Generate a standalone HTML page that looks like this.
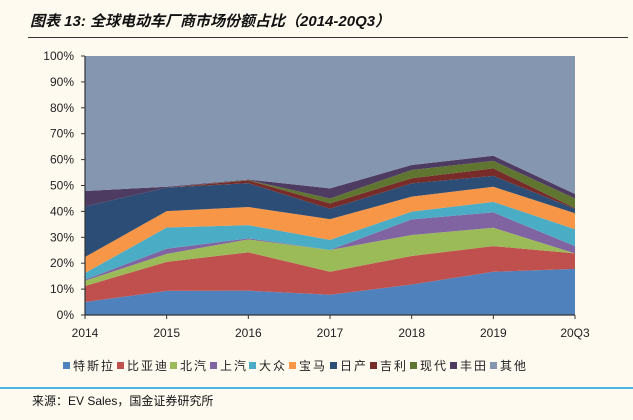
<!DOCTYPE html>
<html><head><meta charset="utf-8"><style>
body{margin:0;background:#fffaf0;}
#wrap{position:relative;width:633px;height:420px;background:#fffaf0;font-family:"Liberation Sans","Noto Sans CJK SC",sans-serif;overflow:hidden}
.title{position:absolute;left:30px;top:10px;font-size:15px;font-weight:bold;font-style:italic;color:#111}
.rule{position:absolute;left:28px;top:37px;width:600px;height:1px;background:#333}
.rule2{position:absolute;left:0;top:387px;width:633px;height:2px;background:#4bb3e0}
.src{position:absolute;left:32px;top:392px;font-size:12px;color:#111}
.leg{position:absolute;top:357px;font-size:12px;color:#222;white-space:nowrap;letter-spacing:2px}
.leg i{display:inline-block;width:7px;height:7px;margin-right:3px;vertical-align:1px}
</style></head><body>
<div id="wrap">
<div class="title">图表 13: 全球电动车厂商市场份额占比（2014-20Q3）</div>
<div class="rule"></div>
<svg id="chart" width="633" height="420" style="position:absolute;left:0;top:0"></svg>
<div id="legend"></div>
<div class="rule2"></div>
<div class="src">来源：EV Sales，国金证券研究所</div>
</div>
<script>
const categories=["2014","2015","2016","2017","2018","2019","20Q3"];
const seriesNames=["特斯拉","比亚迪","北汽","上汽","大众","宝马","日产","吉利","现代","丰田","其他"];
const tesla=[5,9.3,9.4,7.8,11.8,16.7,17.8];
const byd=[6.2,11.2,14.8,8.9,11,9.9,6];
const baic=[2,3.1,5,8.4,8.1,7.1,0];
const saic=[0.4,2,0.4,0,6,5.9,2.8];
const vw=[2.6,8.2,5.1,3.9,3,4.1,6.5];
const bmw=[6.2,6.3,7,8,5.8,5.8,6.2];
const nissan=[19.5,9.1,9.2,4,5.1,4.2,1.7];
const geely=[0,0,1.1,2.1,2,2.9,0.3];
const hyundai=[0,0,0.1,1.9,3.2,2.9,3.7];
const toyota=[6,0.3,0.2,3.9,1.9,2,1.7];
const yTicks=[0,10,20,30,40,50,60,70,80,90,100];
const colors=["#4f81bd","#c0504d","#9bbb59","#8064a2","#4bacc6","#f79646","#2c4d75","#772c2a","#5f7530","#4d3b62","#8596b0"];
const series=[tesla,byd,baic,saic,vw,bmw,nissan,geely,hyundai,toyota];
const NS="http://www.w3.org/2000/svg";
const svg=document.getElementById('chart');
const X0=85,X1=575,Y0=315,Y1=56;
const x=i=>X0+(X1-X0)*i/(categories.length-1);
const y=v=>Y0-(Y0-Y1)*v/100;
function mk(t,a){const e=document.createElementNS(NS,t);for(const k in a)e.setAttribute(k,a[k]);svg.appendChild(e);return e;}
let cum=categories.map(()=>0);
const all=series.concat([categories.map((c,i)=>100-series.reduce((s,a)=>s+a[i],0))]);
all.forEach((arr,si)=>{
  const lo=cum.slice();const hi=cum.map((c,i)=>c+arr[i]);
  let d="";
  hi.forEach((v,i)=>{d+=(i?"L":"M")+x(i)+","+y(v);});
  for(let i=lo.length-1;i>=0;i--)d+="L"+x(i)+","+y(lo[i]);
  const p=mk('path',{d:d+"Z",fill:colors[si]});
  
  
  cum=hi;
});
const ax=mk('path',{d:`M${X0},${Y1}V${Y0}H${X1}`,stroke:"#333",fill:"none","stroke-width":1.2});


yTicks.forEach(t=>{
  const tk=mk('line',{x1:X0-4,x2:X0,y1:y(t),y2:y(t),stroke:"#333"});
  
  
  const tx=mk('text',{x:X0-11,y:y(t)+4,"text-anchor":"end","font-size":12,fill:"#222","font-family":"Liberation Sans"});
  tx.textContent=t+"%";
  
  
});
categories.forEach((c,i)=>{
  const tk=mk('line',{x1:x(i),x2:x(i),y1:Y0,y2:Y0+4,stroke:"#333"});
  
  
  const tx=mk('text',{x:x(i),y:Y0+22,"text-anchor":"middle","font-size":12,fill:"#222","font-family":"Liberation Sans"});
  tx.textContent=c;
  
  
});
const lg=document.getElementById('legend');
const legLeft=[63,117,170,210,249,289,330,370,410,450,490];
seriesNames.forEach((n,i)=>{
  const d=document.createElement('div');
  d.className='leg';
  d.style.left=legLeft[i]+'px';
  d.innerHTML='<i style="background:'+colors[i]+'"></i>'+n;
  
  
  lg.appendChild(d);
});
</script>
</body></html>
